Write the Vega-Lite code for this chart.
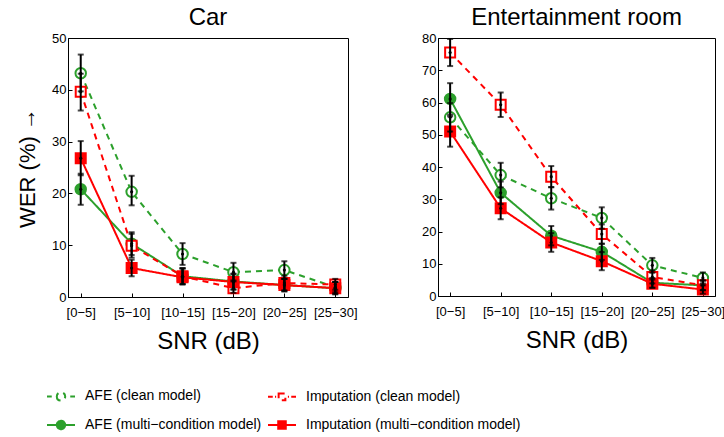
{
  "$schema": "https://vega.github.io/schema/vega-lite/v6.json",
  "padding": {"left": 16, "top": 5, "right": 0, "bottom": 0},
  "datasets": {
    "wer": [
      {"room": "Car", "snr": "[0−5]", "series": "AFE (clean model)", "wer": 43.2, "lo": 39.7, "hi": 46.8},
      {"room": "Car", "snr": "[0−5]", "series": "AFE (multi−condition model)", "wer": 20.8, "lo": 17.8, "hi": 23.8},
      {"room": "Car", "snr": "[0−5]", "series": "Imputation (clean model)", "wer": 39.6, "lo": 36.0, "hi": 43.1},
      {"room": "Car", "snr": "[0−5]", "series": "Imputation (multi−condition model)", "wer": 26.8, "lo": 23.5, "hi": 30.1},
      {"room": "Car", "snr": "[5−10]", "series": "AFE (clean model)", "wer": 20.3, "lo": 17.7, "hi": 23.4},
      {"room": "Car", "snr": "[5−10]", "series": "AFE (multi−condition model)", "wer": 10.3, "lo": 8.1, "hi": 12.5},
      {"room": "Car", "snr": "[5−10]", "series": "Imputation (clean model)", "wer": 9.9, "lo": 7.6, "hi": 12.2},
      {"room": "Car", "snr": "[5−10]", "series": "Imputation (multi−condition model)", "wer": 5.6, "lo": 4.0, "hi": 7.2},
      {"room": "Car", "snr": "[10−15]", "series": "AFE (clean model)", "wer": 8.3, "lo": 6.2, "hi": 10.4},
      {"room": "Car", "snr": "[10−15]", "series": "AFE (multi−condition model)", "wer": 4.0, "lo": 2.5, "hi": 5.5},
      {"room": "Car", "snr": "[10−15]", "series": "Imputation (clean model)", "wer": 4.0, "lo": 2.5, "hi": 5.5},
      {"room": "Car", "snr": "[10−15]", "series": "Imputation (multi−condition model)", "wer": 3.8, "lo": 2.4, "hi": 5.6},
      {"room": "Car", "snr": "[15−20]", "series": "AFE (clean model)", "wer": 4.8, "lo": 3.0, "hi": 6.6},
      {"room": "Car", "snr": "[15−20]", "series": "AFE (multi−condition model)", "wer": 3.0, "lo": 1.5, "hi": 4.5},
      {"room": "Car", "snr": "[15−20]", "series": "Imputation (clean model)", "wer": 1.7, "lo": 0.8, "hi": 3.2},
      {"room": "Car", "snr": "[15−20]", "series": "Imputation (multi−condition model)", "wer": 2.9, "lo": 1.4, "hi": 4.4},
      {"room": "Car", "snr": "[20−25]", "series": "AFE (clean model)", "wer": 5.2, "lo": 3.5, "hi": 6.9},
      {"room": "Car", "snr": "[20−25]", "series": "AFE (multi−condition model)", "wer": 2.3, "lo": 1.1, "hi": 3.5},
      {"room": "Car", "snr": "[20−25]", "series": "Imputation (clean model)", "wer": 2.7, "lo": 1.3, "hi": 4.1},
      {"room": "Car", "snr": "[20−25]", "series": "Imputation (multi−condition model)", "wer": 2.3, "lo": 1.1, "hi": 3.5},
      {"room": "Car", "snr": "[25−30]", "series": "AFE (clean model)", "wer": 1.9, "lo": 0.9, "hi": 2.9},
      {"room": "Car", "snr": "[25−30]", "series": "AFE (multi−condition model)", "wer": 1.7, "lo": 0.5, "hi": 2.9},
      {"room": "Car", "snr": "[25−30]", "series": "Imputation (clean model)", "wer": 2.4, "lo": 1.4, "hi": 3.5},
      {"room": "Car", "snr": "[25−30]", "series": "Imputation (multi−condition model)", "wer": 1.7, "lo": 0.6, "hi": 2.9},
      {"room": "Ent", "snr": "[0−5]", "series": "AFE (clean model)", "wer": 55.4, "lo": 51.0, "hi": 59.8},
      {"room": "Ent", "snr": "[0−5]", "series": "AFE (multi−condition model)", "wer": 61.1, "lo": 56.2, "hi": 66.0},
      {"room": "Ent", "snr": "[0−5]", "series": "Imputation (clean model)", "wer": 75.5, "lo": 71.3, "hi": 79.7},
      {"room": "Ent", "snr": "[0−5]", "series": "Imputation (multi−condition model)", "wer": 51.0, "lo": 46.3, "hi": 55.7},
      {"room": "Ent", "snr": "[5−10]", "series": "AFE (clean model)", "wer": 37.5, "lo": 33.7, "hi": 41.3},
      {"room": "Ent", "snr": "[5−10]", "series": "AFE (multi−condition model)", "wer": 32.0, "lo": 28.5, "hi": 35.5},
      {"room": "Ent", "snr": "[5−10]", "series": "Imputation (clean model)", "wer": 59.3, "lo": 55.5, "hi": 63.1},
      {"room": "Ent", "snr": "[5−10]", "series": "Imputation (multi−condition model)", "wer": 27.2, "lo": 23.8, "hi": 30.6},
      {"room": "Ent", "snr": "[10−15]", "series": "AFE (clean model)", "wer": 30.3, "lo": 26.8, "hi": 33.8},
      {"room": "Ent", "snr": "[10−15]", "series": "AFE (multi−condition model)", "wer": 18.7, "lo": 15.7, "hi": 21.7},
      {"room": "Ent", "snr": "[10−15]", "series": "Imputation (clean model)", "wer": 37.0, "lo": 33.7, "hi": 40.3},
      {"room": "Ent", "snr": "[10−15]", "series": "Imputation (multi−condition model)", "wer": 16.6, "lo": 13.7, "hi": 19.5},
      {"room": "Ent", "snr": "[15−20]", "series": "AFE (clean model)", "wer": 24.2, "lo": 20.9, "hi": 27.5},
      {"room": "Ent", "snr": "[15−20]", "series": "AFE (multi−condition model)", "wer": 13.7, "lo": 11.2, "hi": 16.2},
      {"room": "Ent", "snr": "[15−20]", "series": "Imputation (clean model)", "wer": 19.2, "lo": 16.2, "hi": 22.2},
      {"room": "Ent", "snr": "[15−20]", "series": "Imputation (multi−condition model)", "wer": 10.8, "lo": 8.0, "hi": 13.6},
      {"room": "Ent", "snr": "[20−25]", "series": "AFE (clean model)", "wer": 9.5, "lo": 7.2, "hi": 11.8},
      {"room": "Ent", "snr": "[20−25]", "series": "AFE (multi−condition model)", "wer": 4.1, "lo": 2.6, "hi": 5.6},
      {"room": "Ent", "snr": "[20−25]", "series": "Imputation (clean model)", "wer": 5.9, "lo": 3.9, "hi": 7.9},
      {"room": "Ent", "snr": "[20−25]", "series": "Imputation (multi−condition model)", "wer": 3.8, "lo": 2.5, "hi": 5.1},
      {"room": "Ent", "snr": "[25−30]", "series": "AFE (clean model)", "wer": 5.6, "lo": 3.9, "hi": 7.3},
      {"room": "Ent", "snr": "[25−30]", "series": "AFE (multi−condition model)", "wer": 3.3, "lo": 1.8, "hi": 4.8},
      {"room": "Ent", "snr": "[25−30]", "series": "Imputation (clean model)", "wer": 3.3, "lo": 1.8, "hi": 4.8},
      {"room": "Ent", "snr": "[25−30]", "series": "Imputation (multi−condition model)", "wer": 2.0, "lo": 0.7, "hi": 3.3}
    ]
  },
  "data": {"name": "wer"},
  "spacing": 63,
  "resolve": {"scale": {"y": "independent"}},
  "hconcat": [
    {
      "title": "Car",
      "width": 280,
      "height": 259,
      "transform": [{"filter": "datum.room == 'Car'"}],
      "encoding": {
        "x": {"field": "snr", "type": "ordinal", "sort": ["[0−5]", "[5−10]", "[10−15]", "[15−20]", "[20−25]", "[25−30]"], "scale": {"type": "point", "padding": 0.25}, "title": "SNR (dB)"},
        "y": {"field": "wer", "type": "quantitative", "scale": {"domain": [0, 50], "nice": false}, "axis": {"values": [0, 10, 20, 30, 40, 50]}, "title": "WER (%) →"}
      },
      "layer": [
        {
          "mark": {"type": "line", "strokeWidth": 2},
          "encoding": {
            "detail": {"field": "series"},
            "stroke": {"field": "series", "type": "nominal", "scale": {"domain": ["AFE (clean model)", "Imputation (clean model)", "AFE (multi−condition model)", "Imputation (multi−condition model)"], "range": ["#2ca02c", "#ff0000", "#2ca02c", "#ff0000"]}, "legend": {"title": null, "encode": {"symbols": {"update": {"strokeDash": {"value": [1, 0]}, "opacity": {"value": 1}}}}}},
            "strokeDash": {"field": "series", "type": "nominal", "scale": {"domain": ["AFE (clean model)", "Imputation (clean model)", "AFE (multi−condition model)", "Imputation (multi−condition model)"], "range": [[6, 5], [6, 5], [1, 0], [1, 0]]}, "legend": null}
          }
        },
        {
          "transform": [{"filter": "test(/^AFE/, datum.series)"}],
          "mark": {"type": "point", "shape": "circle", "size": 110, "strokeWidth": 2, "opacity": 1},
          "encoding": {
            "stroke": {"field": "series", "type": "nominal", "legend": {"title": null, "encode": {"symbols": {"update": {"strokeDash": {"value": [1, 0]}, "opacity": {"value": 1}}}}}},
            "fill": {"field": "series", "type": "nominal", "scale": {"domain": ["AFE (clean model)", "Imputation (clean model)", "AFE (multi−condition model)", "Imputation (multi−condition model)"], "range": ["white", "white", "#2ca02c", "#ff0000"]}, "legend": {"title": null, "encode": {"symbols": {"update": {"strokeDash": {"value": [1, 0]}, "opacity": {"value": 1}}}}}}
          }
        },
        {
          "transform": [{"filter": "test(/^Imp/, datum.series)"}],
          "mark": {"type": "point", "shape": "square", "size": 100, "strokeWidth": 2, "opacity": 1},
          "encoding": {
            "stroke": {"field": "series", "type": "nominal", "legend": {"title": null, "encode": {"symbols": {"update": {"strokeDash": {"value": [1, 0]}, "opacity": {"value": 1}}}}}},
            "fill": {"field": "series", "type": "nominal", "legend": {"title": null, "encode": {"symbols": {"update": {"strokeDash": {"value": [1, 0]}, "opacity": {"value": 1}}}}}}
          }
        },
        {
          "mark": {"type": "errorbar", "color": "black", "ticks": {"size": 6, "thickness": 2}, "rule": {"strokeWidth": 2}},
          "encoding": {
            "y": {"field": "lo", "type": "quantitative"},
            "y2": {"field": "hi"}
          }
        },
        {
          "mark": {"type": "point", "shape": "circle", "size": 10, "filled": true, "color": "black", "opacity": 1},
          "encoding": {}
        },
        {
          "mark": {"type": "point", "opacity": 0, "size": 1},
          "encoding": {
            "shape": {"field": "series", "type": "nominal", "scale": {"domain": ["AFE (clean model)", "Imputation (clean model)", "AFE (multi−condition model)", "Imputation (multi−condition model)"], "range": [
              "M-1,0H-0.66 M0.66,0H1 M-0.3,0A0.3,0.3 0 1,0 0.3,0A0.3,0.3 0 1,0 -0.3,0",
              "M-1,0H-0.66 M-0.5,0H-0.42 M0.42,0H0.5 M0.66,0H1 M-0.24,-0.24H0.24V0.24H-0.24Z",
              "M-1,0H1 M-0.3,0A0.3,0.3 0 1,0 0.3,0A0.3,0.3 0 1,0 -0.3,0",
              "M-1,0H1 M-0.27,-0.27H0.27V0.27H-0.27Z"
            ]}, "legend": {"title": null, "encode": {"symbols": {"update": {"strokeDash": {"value": [1, 0]}, "opacity": {"value": 1}}}}}},
            "stroke": {"field": "series", "type": "nominal", "legend": {"title": null, "encode": {"symbols": {"update": {"strokeDash": {"value": [1, 0]}, "opacity": {"value": 1}}}}}},
            "fill": {"field": "series", "type": "nominal", "legend": {"title": null, "encode": {"symbols": {"update": {"strokeDash": {"value": [1, 0]}, "opacity": {"value": 1}}}}}}
          }
        }
      ]
    },
    {
      "title": "Entertainment room",
      "width": 277,
      "height": 258,
      "transform": [{"filter": "datum.room == 'Ent'"}],
      "encoding": {
        "x": {"field": "snr", "type": "ordinal", "sort": ["[0−5]", "[5−10]", "[10−15]", "[15−20]", "[20−25]", "[25−30]"], "scale": {"type": "point", "padding": 0.24}, "title": "SNR (dB)"},
        "y": {"field": "wer", "type": "quantitative", "scale": {"domain": [0, 80], "nice": false}, "axis": {"values": [0, 10, 20, 30, 40, 50, 60, 70, 80]}, "title": null}
      },
      "layer": [
        {
          "mark": {"type": "line", "strokeWidth": 2},
          "encoding": {
            "detail": {"field": "series"},
            "stroke": {"field": "series", "type": "nominal", "legend": {"title": null, "encode": {"symbols": {"update": {"strokeDash": {"value": [1, 0]}, "opacity": {"value": 1}}}}}},
            "strokeDash": {"field": "series", "type": "nominal", "legend": null}
          }
        },
        {
          "transform": [{"filter": "test(/^AFE/, datum.series)"}],
          "mark": {"type": "point", "shape": "circle", "size": 110, "strokeWidth": 2, "opacity": 1},
          "encoding": {
            "stroke": {"field": "series", "type": "nominal", "legend": {"title": null, "encode": {"symbols": {"update": {"strokeDash": {"value": [1, 0]}, "opacity": {"value": 1}}}}}},
            "fill": {"field": "series", "type": "nominal", "legend": {"title": null, "encode": {"symbols": {"update": {"strokeDash": {"value": [1, 0]}, "opacity": {"value": 1}}}}}}
          }
        },
        {
          "transform": [{"filter": "test(/^Imp/, datum.series)"}],
          "mark": {"type": "point", "shape": "square", "size": 100, "strokeWidth": 2, "opacity": 1},
          "encoding": {
            "stroke": {"field": "series", "type": "nominal", "legend": {"title": null, "encode": {"symbols": {"update": {"strokeDash": {"value": [1, 0]}, "opacity": {"value": 1}}}}}},
            "fill": {"field": "series", "type": "nominal", "legend": {"title": null, "encode": {"symbols": {"update": {"strokeDash": {"value": [1, 0]}, "opacity": {"value": 1}}}}}}
          }
        },
        {
          "mark": {"type": "errorbar", "color": "black", "ticks": {"size": 6, "thickness": 2}, "rule": {"strokeWidth": 2}},
          "encoding": {
            "y": {"field": "lo", "type": "quantitative"},
            "y2": {"field": "hi"}
          }
        },
        {
          "mark": {"type": "point", "shape": "circle", "size": 10, "filled": true, "color": "black", "opacity": 1},
          "encoding": {}
        }
      ]
    }
  ],
  "config": {
    "font": "Liberation Sans",
    "view": {"stroke": "black", "strokeWidth": 1},
    "title": {"fontSize": 24, "fontWeight": "normal", "offset": 2, "color": "black"},
    "axis": {"grid": false, "domainColor": "black", "tickColor": "black", "labelColor": "black", "titleColor": "black", "titleFontWeight": "normal", "labelFontSize": 13, "tickSize": -4},
    "axisX": {"labelAngle": 0, "titleFontSize": 24, "titlePadding": 10, "labelPadding": 13},
    "axisY": {"titleFontSize": 22, "titlePadding": 12, "labelPadding": 6},
    "legend": {"orient": "none", "legendX": -22, "legendY": 343, "direction": "horizontal", "columns": 2, "symbolSize": 784, "symbolStrokeWidth": 2, "labelFontSize": 14, "labelFont": "Liberation Sans", "labelColor": "black", "labelOffset": 9, "columnPadding": 2, "rowPadding": 5, "symbolOpacity": 1, "labelLimit": 0}
  }
}
